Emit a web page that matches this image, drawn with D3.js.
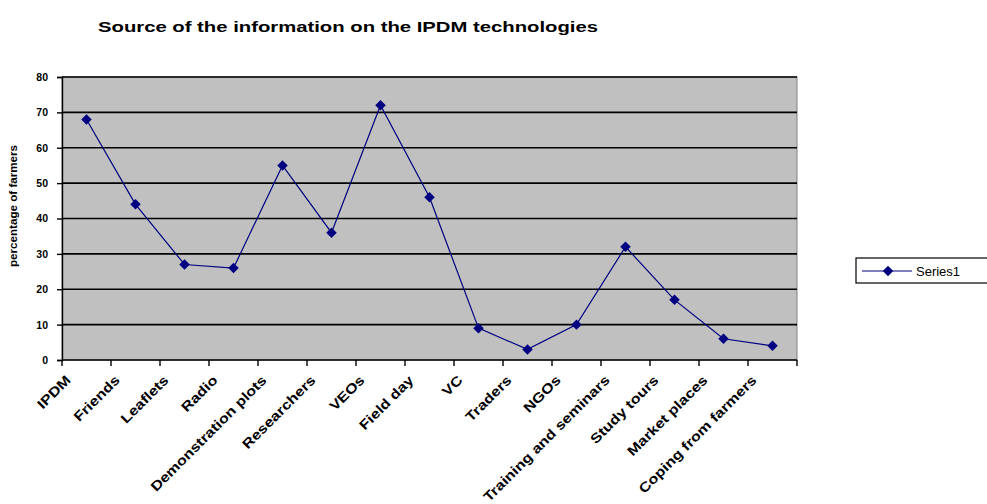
<!DOCTYPE html>
<html>
<head>
<meta charset="utf-8">
<script src="https://cdn.jsdelivr.net/npm/d3@7"></script>
<style>
  html, body { margin: 0; padding: 0; background: #ffffff; }
  svg { display: block; }
  text { font-family: "Liberation Sans", Arial, sans-serif; }
</style>
</head>
<body>
<svg id="chart" width="987" height="504"></svg>
<script>
// Sources of information on IPDM technologies, % of farmers
const categories = [
  "IPDM", "Friends", "Leaflets", "Radio", "Demonstration plots",
  "Researchers", "VEOs", "Field day", "VC", "Traders", "NGOs",
  "Training and seminars", "Study tours", "Market places", "Coping from farmers"
];
const series1 = [68, 44, 27, 26, 55, 36, 72, 46, 9, 3, 10, 32, 17, 6, 4];
const yTicks = [0, 10, 20, 30, 40, 50, 60, 70, 80];
const seriesName = "Series1";
const chartTitle = "Source of the information on the IPDM technologies";
const yTitle = "percentage of farmers";

const svg = d3.select("#chart");
const plot = { left: 62, right: 797, top: 77, bottom: 360 };

const x = d3.scaleBand().domain(categories).range([plot.left, plot.right]).padding(0);
const y = d3.scaleLinear().domain([0, 80]).range([plot.bottom, plot.top]);
const cx = d => x(d) + x.bandwidth() / 2;

// plot background
svg.append("rect")
  .attr("x", plot.left).attr("y", plot.top)
  .attr("width", plot.right - plot.left).attr("height", plot.bottom - plot.top)
  .attr("fill", "#c0c0c0").attr("stroke", "#808080").attr("stroke-width", 1);

// horizontal gridlines
svg.append("g").selectAll("line")
  .data(yTicks.filter(v => v > 0))
  .join("line")
  .attr("x1", plot.left).attr("x2", plot.right)
  .attr("y1", d => y(d)).attr("y2", d => y(d))
  .attr("stroke", "#000").attr("stroke-width", 1.6);

// y axis
const yAxis = svg.append("g")
  .attr("transform", `translate(${plot.left},0)`)
  .call(d3.axisLeft(y).tickValues(yTicks).tickSize(5).tickPadding(9).tickFormat(d3.format("d")));
yAxis.select(".domain").attr("stroke", "#000").attr("stroke-width", 1.4);
yAxis.selectAll(".tick line").attr("stroke", "#000").attr("stroke-width", 1.4);
yAxis.selectAll(".tick text")
  .attr("font-size", 10.5).attr("font-weight", "bold").attr("fill", "#000")
  .attr("font-family", "'Liberation Sans', Arial, sans-serif");

// x axis: ticks on category boundaries
const xAxisG = svg.append("g");
xAxisG.append("line")
  .attr("x1", plot.left).attr("x2", plot.right)
  .attr("y1", plot.bottom).attr("y2", plot.bottom)
  .attr("stroke", "#000").attr("stroke-width", 1.4);
const boundaries = categories.map(c => x(c)).concat([plot.right]);
xAxisG.selectAll("line.tk")
  .data(boundaries)
  .join("line").attr("class", "tk")
  .attr("x1", d => d).attr("x2", d => d)
  .attr("y1", plot.bottom).attr("y2", plot.bottom + 6)
  .attr("stroke", "#000").attr("stroke-width", 1.4);

// rotated category labels (wide, heavy face)
xAxisG.selectAll("text")
  .data(categories)
  .join("text")
  .attr("transform", d => `translate(${cx(d) - 15},${plot.bottom + 21}) rotate(-45) scale(1.2,1)`)
  .attr("text-anchor", "end")
  .attr("font-size", 13.5).attr("font-weight", "bold").attr("fill", "#000")
  .text(d => d);

// series line
const pts = categories.map((c, i) => [cx(c), y(series1[i])]);
svg.append("path")
  .attr("d", d3.line()(pts))
  .attr("fill", "none").attr("stroke", "#000080").attr("stroke-width", 1.2);

// diamond markers
const diamond = d3.symbol().type(d3.symbolDiamond2).size(70);
svg.append("g").selectAll("path")
  .data(categories)
  .join("path")
  .attr("transform", (c, i) => `translate(${cx(c)},${y(series1[i])})`)
  .attr("d", diamond)
  .attr("fill", "#000080");

// title
svg.append("text")
  .attr("x", 98).attr("y", 32)
  .attr("font-size", 15).attr("font-weight", "bold")
  .attr("textLength", 500).attr("lengthAdjust", "spacingAndGlyphs")
  .text(chartTitle);

// y axis title
svg.append("text")
  .attr("transform", `translate(17,206) rotate(-90)`)
  .attr("text-anchor", "middle")
  .attr("font-size", 10).attr("font-weight", "bold")
  .attr("textLength", 122).attr("lengthAdjust", "spacingAndGlyphs")
  .text(yTitle);

// legend
const lg = svg.append("g").attr("transform", "translate(856,258)");
lg.append("rect").attr("x", 0).attr("y", 0).attr("width", 140).attr("height", 25)
  .attr("fill", "#fff").attr("stroke", "#000").attr("stroke-width", 1.2);
lg.append("line").attr("x1", 6).attr("x2", 56).attr("y1", 13).attr("y2", 13)
  .attr("stroke", "#000080").attr("stroke-width", 1.2);
lg.append("path").attr("transform", "translate(32,13)").attr("d", diamond).attr("fill", "#000080");
lg.append("text").attr("x", 60).attr("y", 17.5)
  .attr("font-size", 13).attr("fill", "#000").text(seriesName);
</script>
</body>
</html>
